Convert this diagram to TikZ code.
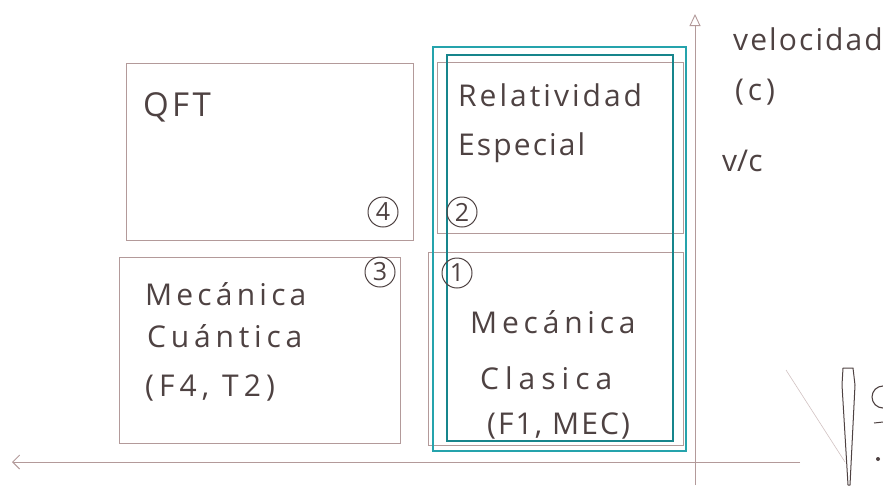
\documentclass[tikz,border=0pt]{standalone}
\usepackage{fontspec}
\setmainfont{Open Sans}
\usetikzlibrary{arrows.meta}
\definecolor{pencil}{HTML}{B39A9A}
\definecolor{ink}{HTML}{4E4242}
\definecolor{tealpen}{HTML}{25A3AC}
\definecolor{tealdark}{HTML}{17858C}
\tikzset{
  region/.style={draw=pencil, line width=0.9pt, minimum width=#1, inner sep=0pt},
  hand/.style={text=ink, inner sep=0pt, anchor=base west,
    font=\fontsize{30}{30}\selectfont\addfontfeature{LetterSpace=#1}},
  hand/.default=0,
  badge/.style={draw=ink, circle, line width=1pt, minimum size=30pt, inner sep=0pt, text=ink,
    font=\fontsize{25}{25}\selectfont},
  tealbox/.style={draw=tealpen, line width=2pt, inner sep=0pt},
  axisline/.style={draw=pencil, line width=0.9pt},
}
\begin{document}
\begin{tikzpicture}[x=1pt,y=-1pt]
\useasboundingbox (0,0) rectangle (883,485);

% four regions of the diagram
\node[region=287pt, minimum height=177pt] (qft) at (269.5,151.5) {};
\node[region=246pt, minimum height=171pt] (rel) at (560,147.5) {};
\node[region=281pt, minimum height=186pt] (cua) at (259.5,350) {};
\node[region=255pt, minimum height=193pt] (cla) at (555.5,348.5) {};

% highlighted column
\node[tealbox, minimum width=253pt, minimum height=404pt] (outer) at (559.5,249) {};
\node[tealbox, draw=tealdark, line width=1.6pt, minimum width=226pt, minimum height=386pt] (inner) at (560,248) {};

% axes
\coordinate (xstart) at (800,462);
\coordinate (xend) at (12,462);
\coordinate (ystart) at (695,485);
\coordinate (yend) at (695,14);
\draw[axisline, -{Straight Barb[length=7pt,width=14pt]}] (xstart) -- (xend);
\draw[axisline, -{Triangle[open,length=12pt,width=11pt]}] (ystart) -- (yend);

% region labels
\node[hand=10, font=\fontsize{33}{33}\selectfont\addfontfeature{LetterSpace=10}] (tqft) at (143,116) {QFT};
\node[hand=10] (trel) at (458,106) {Relatividad};
\node[hand=7] (tesp) at (458,155) {Especial};

\node[hand=14] (tmc1) at (145,305) {Mecánica};
\node[hand=16] (tcu) at (147,347) {Cuántica};
\node[hand=17] (tf4) at (145,396) {(F4, T2)};

\node[hand=16] (tmc2) at (470,333) {Mecánica};
\node[hand=20] (tcl) at (480,389) {Clasica};
\node[hand=7] (tf1) at (487,434) {(F1, MEC)};

% axis labels
\node[hand=7] (tvel) at (733,50) {velocidad};
\node[hand=13] (tc) at (735,100) {(c)};
\node[hand] (tvc) at (722,171) {v/c};

% numbered badges
\node[badge] (n4) at (383,212) {4};
\node[badge] (n2) at (462,212) {2};
\node[badge] (n3) at (380,272) {3};
\node[badge] (n1) at (457,273) {1};

% objects at the lower right margin
\draw[draw=ink, line width=1pt, line join=round]
  (843,368) -- (853,368) -- (855,385) -- (850,485) -- (848,485) -- (842,385) -- cycle;
\draw[draw=pencil!60, line width=0.6pt] (786,370) -- (845,462);
\draw[draw=ink, line width=1.1pt] (883,386) arc[start angle=90, end angle=270, radius=11pt];
\draw[draw=ink, line width=1pt] (874,423) -- (883,422);
\fill[ink] (878,459) circle[radius=2pt];
\end{tikzpicture}
\end{document}
